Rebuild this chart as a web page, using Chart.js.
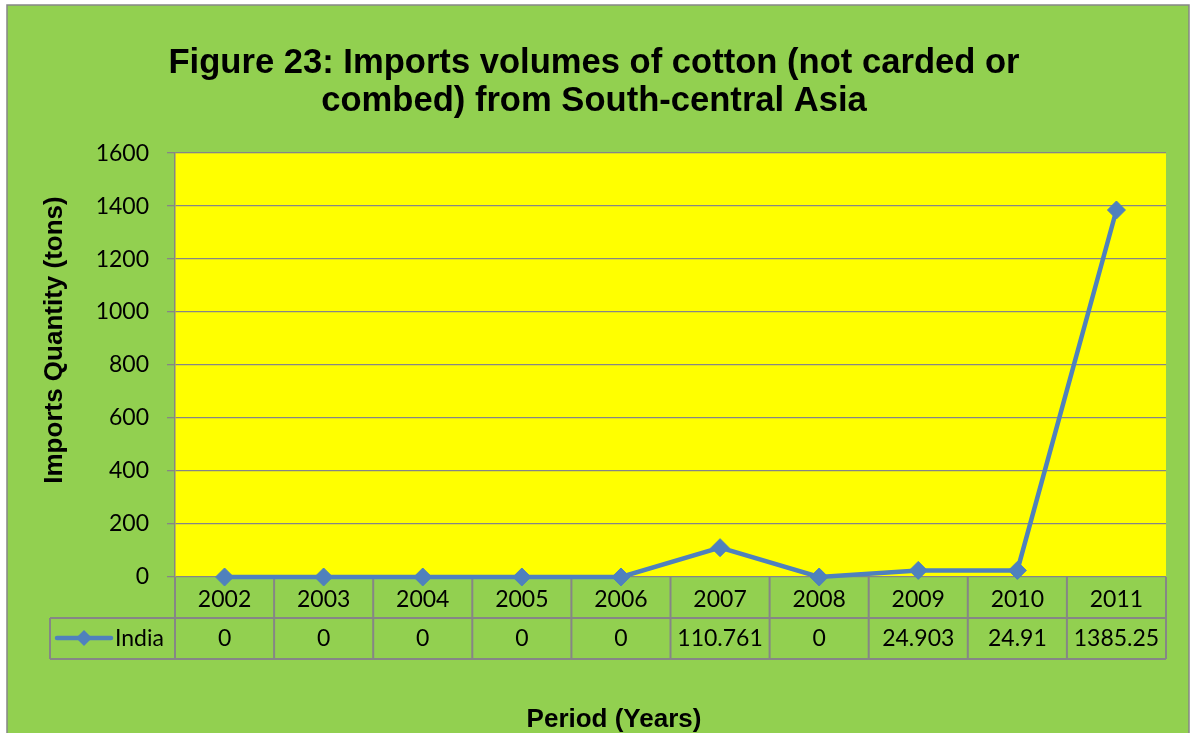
<!DOCTYPE html>
<html>
<head>
<meta charset="utf-8">
<script src="https://cdn.jsdelivr.net/npm/chart.js@4.4.1/dist/chart.umd.min.js"></script>
<style>
  html, body { margin: 0; padding: 0; background: #ffffff; overflow: hidden; }
</style>
</head>
<body>
<canvas id="myChart" width="1193" height="733"></canvas>
<script>
'use strict';

const years = ['2002', '2003', '2004', '2005', '2006', '2007', '2008', '2009', '2010', '2011'];
const india = [0, 0, 0, 0, 0, 110.761, 0, 24.903, 24.91, 1385.25];
const seriesName = 'India';
const yMax = 1600;
const yStep = 200;
const titleLines = ['Figure 23: Imports volumes of cotton (not carded or', 'combed) from South-central Asia'];
const yTitle = 'Imports Quantity (tons)';
const xTitle = 'Period (Years)';

const ctx = document.getElementById('myChart');

const GREEN = '#92D050';
const GRAY = '#868686';
const BLUE = '#4F81BD';
const tickFont = 'Lato';
const boldFont = 'Liberation Sans';

// green chart area + yellow plot area
const backgroundPlugin = {
  id: 'bg',
  beforeDraw(chart) {
    const c = chart.ctx;
    const a = chart.chartArea;
    c.save();
    c.fillStyle = GREEN;
    c.fillRect(7, 5, 1182, 740);
    c.strokeStyle = GRAY;
    c.lineWidth = 1.5;
    c.strokeRect(7, 5, 1182, 740);
    c.fillStyle = '#FFFF00';
    c.fillRect(a.left, a.top, a.right - a.left, a.bottom - a.top);
    c.restore();
  }
};

function drawDiamond(c, x, y, r) {
  c.beginPath();
  c.moveTo(x, y - r);
  c.lineTo(x + r, y);
  c.lineTo(x, y + r);
  c.lineTo(x - r, y);
  c.closePath();
  c.fill();
}

// data table under the plot, like the Excel one
const tablePlugin = {
  id: 'dataTable',
  beforeDatasetsDraw(chart) {
    const c = chart.ctx;
    const a = chart.chartArea;
    const xs = chart.scales.x;
    const half = (a.right - a.left) / years.length / 2;
    const rowTop = a.bottom;
    const rowMid = a.bottom + 41;
    const rowBot = a.bottom + 82;
    const legLeft = 50;

    c.save();
    c.strokeStyle = GRAY;
    c.lineWidth = 2;
    c.beginPath();
    for (let i = 0; i <= years.length; i++) {
      const x = (i < years.length) ? xs.getPixelForValue(i) - half : xs.getPixelForValue(i - 1) + half;
      c.moveTo(x, rowTop);
      c.lineTo(x, rowBot);
    }
    c.moveTo(legLeft, rowMid);
    c.lineTo(a.right, rowMid);
    c.moveTo(legLeft, rowBot);
    c.lineTo(a.right, rowBot);
    c.moveTo(legLeft, rowMid);
    c.lineTo(legLeft, rowBot);
    c.stroke();

    c.fillStyle = '#000';
    c.font = '23px ' + tickFont;
    c.textAlign = 'center';
    c.textBaseline = 'middle';
    for (let i = 0; i < india.length; i++) {
      c.fillText(String(india[i]), xs.getPixelForValue(i), rowMid + 21);
    }

    // legend key
    const ky = rowMid + 20;
    c.strokeStyle = BLUE;
    c.lineWidth = 4.5;
    c.lineCap = 'round';
    c.beginPath();
    c.moveTo(57, ky);
    c.lineTo(111, ky);
    c.stroke();
    c.fillStyle = BLUE;
    drawDiamond(c, 84, ky, 8);
    c.fillStyle = '#000';
    c.textAlign = 'left';
    c.fillText(seriesName, 115, rowMid + 21);
    c.restore();
  },
  afterDraw(chart) {
    const c = chart.ctx;
    c.save();
    c.fillStyle = '#000';
    c.font = 'bold 26px ' + boldFont;
    c.textAlign = 'center';
    c.textBaseline = 'alphabetic';
    c.fillText(xTitle, 614, 727);
    c.translate(62, 340);
    c.rotate(-Math.PI / 2);
    c.fillText(yTitle, 0, 0);
    c.restore();
  }
};

function buildChart() {
  let chartObj = {
    type: 'line',
    data: {
      labels: years,
      datasets: [{
        label: seriesName,
        data: india,
        borderColor: BLUE,
        backgroundColor: BLUE,
        borderWidth: 4.5,
        pointStyle: 'rectRot',
        pointRadius: 9,
        pointBorderWidth: 1,
        pointBackgroundColor: BLUE,
        pointBorderColor: BLUE,
        tension: 0,
        clip: false
      }]
    },
    options: {
      responsive: false,
      devicePixelRatio: 1,
      animation: false,
      layout: {
        padding: { top: 0, left: 22, right: 27, bottom: 74 }
      },
      plugins: {
        legend: { display: false },
        tooltip: { enabled: false },
        title: {
          display: true,
          text: titleLines,
          color: '#000',
          font: { family: boldFont, size: 34.6, weight: 'bold', lineHeight: 1.1 },
          padding: { top: 44, bottom: 33 }
        }
      },
      scales: {
        x: {
          offset: true,
          grid: { display: false },
          border: { display: false },
          ticks: {
            color: '#000',
            font: { family: tickFont, size: 23 },
            padding: 1,
            maxRotation: 0,
            autoSkip: false
          },
          afterFit(scale) { scale.height = 82; }
        },
        y: {
          min: 0,
          max: yMax,
          ticks: {
            stepSize: yStep,
            color: '#000',
            font: { family: tickFont, size: 23 },
            padding: 18,
            callback: (v) => String(v)
          },
          grid: { color: GRAY, lineWidth: 1.3, tickLength: 8 },
          border: { display: true, color: GRAY, width: 1.5 },
          afterFit(scale) { scale.width = 153; }
        }
      }
    },
    plugins: [backgroundPlugin, tablePlugin]
  };
  new Chart(ctx, chartObj);
}

buildChart();
</script>
</body>
</html>
